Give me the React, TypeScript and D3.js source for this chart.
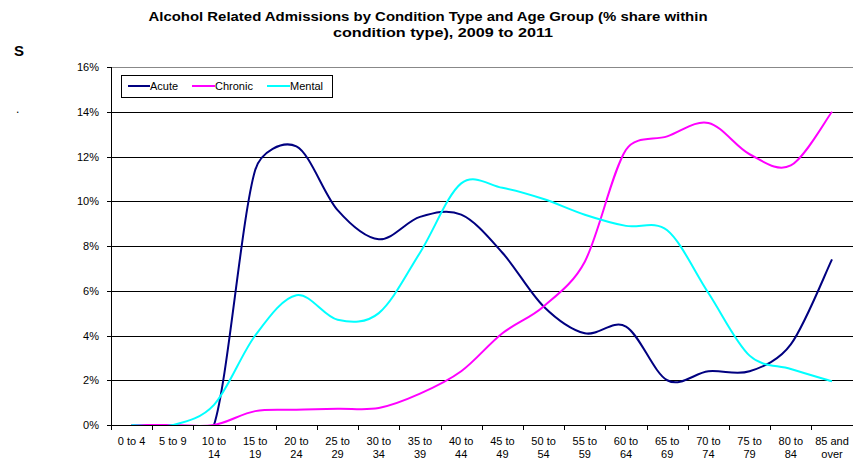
import React from "react";
import * as d3 from "d3";

const categories = [
  "0 to 4", "5 to 9", "10 to 14", "15 to 19", "20 to 24", "25 to 29", "30 to 34", "35 to 39", "40 to 44",
  "45 to 49", "50 to 54", "55 to 59", "60 to 64", "65 to 69", "70 to 74", "75 to 79", "80 to 84", "85 and over",
];
const categoryLines = [
  ["0 to 4"], ["5 to 9"], ["10 to", "14"], ["15 to", "19"], ["20 to", "24"], ["25 to", "29"], ["30 to", "34"],
  ["35 to", "39"], ["40 to", "44"], ["45 to", "49"], ["50 to", "54"], ["55 to", "59"], ["60 to", "64"],
  ["65 to", "69"], ["70 to", "74"], ["75 to", "79"], ["80 to", "84"], ["85 and", "over"],
];
const acute = [0, 0, 0, 11.4, 12.45, 9.6, 8.3, 9.3, 9.4, 7.7, 5.3, 4.1, 4.4, 2.0, 2.4, 2.4, 3.6, 7.4];
const chronic = [0, 0, 0, 0.62, 0.68, 0.73, 0.76, 1.4, 2.4, 4.1, 5.3, 7.3, 12.3, 12.9, 13.5, 12.1, 11.6, 14.0];
const mental = [0, 0, 0.9, 4.0, 5.8, 4.7, 5.0, 7.7, 10.8, 10.6, 10.1, 9.4, 8.9, 8.7, 5.9, 3.1, 2.5, 1.95];
const seriesNames = ["Acute", "Chronic", "Mental"];
const seriesColors = ["#000080", "#FF00FF", "#00FFFF"];
const yTicks = [0, 2, 4, 6, 8, 10, 12, 14, 16];
const titleLines = [
  "Alcohol Related Admissions by Condition Type and Age Group (% share within",
  "condition type), 2009 to 2011",
];

// Spreadsheet-style smoothing: Bezier with 1/6 tangents, limited to a fraction of each chord.
function makeSmoothCurve(limit: number) {
  function Curve(this: any, context: any) {
    this._context = context;
  }
  Curve.prototype = {
    areaStart() {},
    areaEnd() {},
    lineStart() {
      this._xs = [];
      this._ys = [];
    },
    point(x: number, y: number) {
      this._xs.push(+x);
      this._ys.push(+y);
    },
    lineEnd() {
      const xs: number[] = this._xs, ys: number[] = this._ys, n = xs.length;
      const ctx = this._context;
      if (!n) return;
      ctx.moveTo(xs[0], ys[0]);
      for (let i = 0; i < n - 1; i++) {
        const i0 = Math.max(i - 1, 0), i3 = Math.min(i + 2, n - 1);
        const x1 = xs[i], y1 = ys[i], x2 = xs[i + 1], y2 = ys[i + 1];
        const d12 = Math.hypot(x2 - x1, y2 - y1);
        let ax = (x2 - xs[i0]) / 6, ay = (y2 - ys[i0]) / 6;
        let bx = (xs[i3] - x1) / 6, by = (ys[i3] - y1) / 6;
        const la = Math.hypot(ax, ay), lb = Math.hypot(bx, by);
        if (la > d12 * limit) { ax *= (d12 * limit) / la; ay *= (d12 * limit) / la; }
        if (lb > d12 * limit) { bx *= (d12 * limit) / lb; by *= (d12 * limit) / lb; }
        ctx.bezierCurveTo(x1 + ax, y1 + ay, x2 - bx, y2 - by, x2, y2);
      }
    },
  };
  return (context: any) => new (Curve as any)(context);
}

export default function App() {
  const W = 853, H = 459;
  const left = 111, right = 852.6, top = 67, bottom = 425;
  const x = d3.scaleBand<string>().domain(categories).range([left, right]).padding(0);
  const bw = x.bandwidth();
  const y = d3.scaleLinear().domain([0, 16]).range([bottom, top]);
  const cx = (i: number) => (x(categories[i]) as number) + bw / 2;
  const line = d3
    .line<number>()
    .x((_, i) => cx(i))
    .y((v) => y(v))
    .curve(makeSmoothCurve(0.4) as any);
  const series = [acute, chronic, mental];
  const font = "'Liberation Sans', Arial, sans-serif";

  const legendX = 121, legendY = 75;
  const legendItems = [
    { lx: 128, tx: 150 },
    { lx: 192, tx: 215 },
    { lx: 267, tx: 290 },
  ];

  return (
    <svg width={W} height={H} style={{ position: "absolute", left: 0, top: 0, background: "#fff" }} fontFamily={font}>
      <defs>
        <clipPath id="plotclip">
          <rect x={left} y={top - 1} width={right - left + 2} height={bottom - top + 1} />
        </clipPath>
      </defs>
      {/* title */}
      <text x={428} y={21} textAnchor="middle" fontSize={12} fontWeight="bold" textLength={559} lengthAdjust="spacingAndGlyphs">
        {titleLines[0]}
      </text>
      <text x={443} y={37} textAnchor="middle" fontSize={12} fontWeight="bold" textLength={220} lengthAdjust="spacingAndGlyphs">
        {titleLines[1]}
      </text>
      <text x={14} y={56} fontSize={15} fontWeight="bold">S</text>
      <text x={16} y={113} fontSize={12}>.</text>

      {/* gridlines */}
      {yTicks.map((t) => (
        <line key={"g" + t} x1={left} x2={W} y1={Math.round(y(t)) + 0.5} y2={Math.round(y(t)) + 0.5}
          stroke={t === 16 ? "#888" : "#000"} strokeWidth={1} />
      ))}
      {/* y axis */}
      <line x1={left + 0.5} x2={left + 0.5} y1={top} y2={bottom} stroke="#000" />
      {yTicks.map((t) => (
        <g key={"yt" + t}>
          <line x1={left - 4} x2={left} y1={Math.round(y(t)) + 0.5} y2={Math.round(y(t)) + 0.5} stroke="#000" />
          <text x={99} y={y(t) + 4} textAnchor="end" fontSize={11}>{t + "%"}</text>
        </g>
      ))}
      {/* x axis ticks */}
      {d3.range(categories.length + 1).map((i) => {
        const xx = Math.round(left + i * bw) + 0.5;
        return <line key={"xt" + i} x1={xx} x2={xx} y1={bottom} y2={bottom + 5} stroke="#000" />;
      })}
      {categoryLines.map((ls, i) => (
        <text key={"xl" + i} x={cx(i)} y={445} textAnchor="middle" fontSize={11}>
          {ls.map((l, j) => (
            <tspan key={j} x={cx(i)} dy={j === 0 ? 0 : 13}>{l}</tspan>
          ))}
        </text>
      ))}

      {/* lines */}
      <g clipPath="url(#plotclip)">
        {series.map((s, k) => (
          <path key={"s" + k} d={line(s) as string} fill="none" stroke={seriesColors[k]} strokeWidth={2} />
        ))}
      </g>

      {/* legend */}
      <rect x={legendX + 0.5} y={legendY + 0.5} width={211} height={22} fill="#fff" stroke="#000" />
      {seriesNames.map((n, k) => (
        <g key={"lg" + k}>
          <line x1={legendItems[k].lx} x2={legendItems[k].tx} y1={86} y2={86} stroke={seriesColors[k]} strokeWidth={2} />
          <text x={legendItems[k].tx} y={90} fontSize={11}>{n}</text>
        </g>
      ))}
    </svg>
  );
}
